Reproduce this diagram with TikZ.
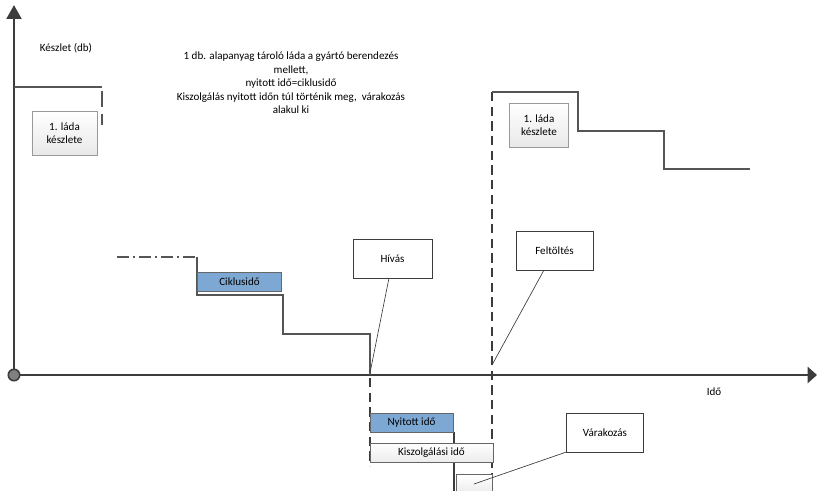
\documentclass[tikz,border=0pt]{standalone}
\usepackage{fontspec}
\setmainfont{Carlito}
\usetikzlibrary{positioning,arrows.meta,calc}
\definecolor{axisgray}{RGB}{60,60,60}
\definecolor{stepgray}{RGB}{85,85,85}
\definecolor{barblue}{RGB}{125,168,212}
\tikzset{
    ladabox/.style={
        rectangle,
        draw=gray!80,
        top color=white,
        bottom color=gray!18,
        minimum width=#1,
        minimum height=44pt*0.75,
        align=center,
        font=\fontsize{8.3}{10}\selectfont
    },
    callout/.style={
        rectangle,
        draw=axisgray,
        fill=white,
        minimum height=29pt,
        align=center,
        font=\fontsize{8.3}{10}\selectfont
    },
    timebar/.style={
        rectangle,
        draw=gray!80!black,
        minimum height=14pt,
        inner sep=1pt,
        font=\fontsize{8.3}{10}\selectfont
    },
    steps/.style={stepgray, line width=1.4pt},
    axis/.style={axisgray, line width=2.2pt},
    marker/.style={axisgray, line width=1pt, dash pattern=on 7pt off 4pt}
}
\begin{document}
\begin{tikzpicture}[x=0.75pt, y=-0.75pt]
    \useasboundingbox (0,0) rectangle (817,491);

    % tengelyek
    \coordinate (O) at (14,375);
    \coordinate (ytop) at (14,5);
    \coordinate (xend) at (817,375);
    \draw[axis, -{Triangle[length=10.5pt, width=11pt]}] (O) -- (ytop);
    \draw[axis, -{Triangle[length=7pt, width=12pt]}] (O) -- (xend);
    \fill[gray, draw=axisgray, line width=1.2pt] (O) circle (4.3pt);

    \node[font=\fontsize{8.3}{10}\selectfont] (ylabel) at (66,48) {Készlet (db)};
    \node[font=\fontsize{8.3}{10}\selectfont] (xlabel) at (714,392) {Idő};
    \node[align=center, font=\fontsize{8.3}{10.1}\selectfont] (note) at (291,83)
        {1 db. alapanyag tároló láda a gyártó berendezés\\ mellett,\\ nyitott idő=ciklusidő\\
         Kiszolgálás nyitott időn túl történik meg,\ \ várakozás\\ alakul ki};

    % 1. láda (balra)
    \draw[steps] (14,87) -- (102,87);
    \draw[stepgray, line width=1.2pt, dash pattern=on 12pt off 5pt] (102,91) -- (102,125);
    \node[ladabox=49pt] (lada1) at (64.5,133.5) {1. láda\\készlete};

    % lépcső a Ciklusidő körül
    \draw[stepgray, line width=1.2pt, dash pattern=on 9pt off 3pt on 1.5pt off 3pt] (117,257) -- (195,257);
    \draw[steps] (197,257) -- (197,295) -- (283,295) -- (283,334) -- (370,334) -- (370,375);
    \node[timebar, fill=barblue, minimum width=63pt] (cikl) at (239.5,282) {Ciklusidő};

    % függőleges jelölők
    \draw[marker] (370,378) -- (370,466);
    \draw[marker] (492,92) -- (492,491);
    \draw[axisgray, line width=0.9pt] (454,432) -- (454,491);

    % 1. láda (jobbra)
    \draw[steps] (492,92) -- (578,92) -- (578,131) -- (664,131) -- (664,169) -- (750,169);
    \node[ladabox=44pt] (lada2) at (539,125.5) {1. láda\\készlete};

    % Hívás, Feltöltés
    \node[callout, minimum width=59pt] (hivas) at (392.5,258.5) {Hívás};
    \coordinate (hivaspt) at (370,373);
    \draw[axisgray, line width=0.5pt] (389,278) -- (hivaspt);
    \node[callout, minimum width=58pt] (feltolt) at (554.5,251) {Feltöltés};
    \coordinate (feltoltpt) at (492,365);
    \draw[axisgray, line width=0.5pt] (544,270) -- (feltoltpt);

    % idősávok
    \node[timebar, fill=barblue, minimum width=62pt] (nyitott) at (411.5,422.5) {Nyitott idő};
    \node[timebar, top color=white, bottom color=gray!15, minimum width=92pt] (kiszolg) at (431.5,452.5) {Kiszolgálási idő};
    \node[timebar, top color=white, bottom color=gray!15, minimum width=27pt] (varbar) at (474,484) {};
    \node[callout, minimum width=58pt] (varak) at (605,432.5) {Várakozás};
    \draw[axisgray, line width=0.5pt] (varbar.center) -- (varak.south west);
\end{tikzpicture}
\end{document}
